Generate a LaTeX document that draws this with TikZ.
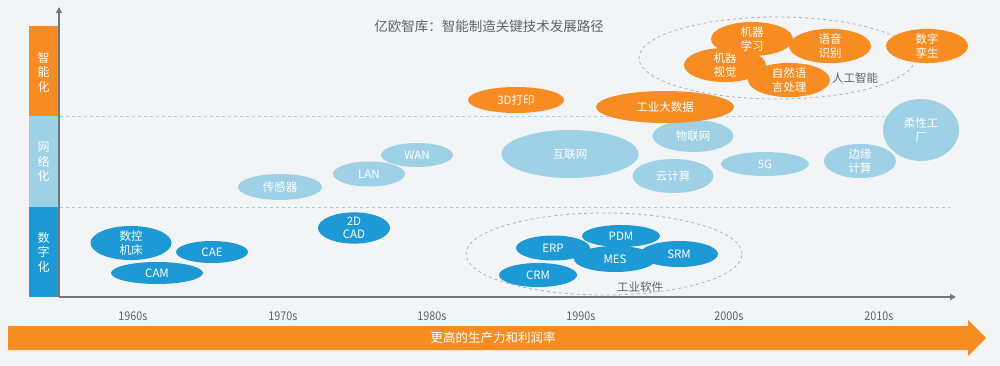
\documentclass[tikz,border=0pt]{standalone}
\usepackage{fontspec}
\setmainfont{Noto Sans CJK SC}
\usepackage{tikz}
\usetikzlibrary{shapes.geometric}
\usetikzlibrary{arrows.meta}
\usepackage{xcolor}
\definecolor{ColSmart}{RGB}{247,141,34}
\definecolor{ColNet}{RGB}{159,209,230}
\definecolor{ColDig}{RGB}{29,154,213}
\definecolor{ColBg}{RGB}{243,244,246}
\definecolor{ColAxis}{RGB}{112,117,126}
\definecolor{ColText}{RGB}{95,98,104}
\definecolor{ColGroup}{RGB}{175,178,182}
\tikzstyle{TechBase}=[ellipse,inner sep=0pt,text=white,align=center,
font=\fontsize{11.5}{13.5}\selectfont]
\tikzstyle{TechDig}=[TechBase,fill=ColDig]
\tikzstyle{TechNet}=[TechBase,fill=ColNet]
\tikzstyle{TechSmart}=[TechBase,fill=ColSmart]
\tikzstyle{GroupRing}=[ellipse,draw=ColGroup,dashed,thick,inner sep=0pt]
\tikzstyle{GroupText}=[text=ColText,font=\fontsize{11.5}{13}\selectfont]
\tikzstyle{LevelBar}=[text=white,align=center,font=\fontsize{12}{14.5}\selectfont]
\tikzstyle{LevelLine}=[ColNet,dashed,thin]
\tikzstyle{AxisLine}=[ColAxis,line width=1.8pt,-{Triangle[length=6pt,width=6pt]}]
\tikzstyle{DecadeLabel}=[text=ColText,font=\fontsize{12}{13}\selectfont,xscale=.9]

\begin{document}
\begin{tikzpicture}[x=1pt,y=-1pt]
        \useasboundingbox(0,0)rectangle(1000,366);
        \fill[ColBg](0,0)rectangle(1000,366);
        \fill[ColSmart](29,26)rectangle(58,116);
        \fill[ColNet](29,116)rectangle(58,207);
        \fill[ColDig](29,207)rectangle(58,297);
        \node[LevelBar](barSmart)at(43.5,72){智\\能\\化};
        \node[LevelBar](barNet)at(43.5,162){网\\络\\化};
        \node[LevelBar](barDig)at(43.5,252){数\\字\\化};
        \coordinate(origin)at(59,297);
        \coordinate(yTop)at(59,7);
        \coordinate(xEnd)at(956,297);
        \coordinate(upperL)at(60,116);
        \coordinate(upperR)at(950,116);
        \coordinate(lowerL)at(60,207);
        \coordinate(lowerR)at(950,207);
        \draw[LevelLine](upperL)--(upperR);
        \draw[LevelLine](lowerL)--(lowerR);
        \node[text=ColText,font=\fontsize{13.5}{15}\selectfont](title)at(489,26){亿欧智库：智能制造关键技术发展路径};
        \node[GroupRing,minimum width=276,minimum height=82](aiGroup)at(777,58){};
        \node[GroupRing,minimum width=276,minimum height=82](swGroup)at(604,254){};
        \node[GroupText](aiText)at(855,78){人工智能};
        \node[GroupText](swText)at(640,287){工业软件};
        \node[TechDig,minimum width=81,minimum height=32](cnc)at(131,243){数控\\机床};
        \node[TechDig,minimum width=72,minimum height=22](cae)at(212,252){CAE};
        \node[TechDig,minimum width=92,minimum height=22](cam)at(157,273){CAM};
        \node[TechDig,minimum width=72,minimum height=26](cad)at(354,228){2D\\CAD};
        \node[TechDig,minimum width=78,minimum height=24](crm)at(538,275){CRM};
        \node[TechDig,minimum width=74,minimum height=25](erp)at(553,248){ERP};
        \node[TechDig,minimum width=78,minimum height=22](pdm)at(621,236){PDM};
        \node[TechDig,minimum width=78,minimum height=26](srm)at(679,254){SRM};
        \node[TechDig,minimum width=82,minimum height=26](mes)at(615,259){MES};
        \node[TechNet,minimum width=84,minimum height=26](sensor)at(280,187){传感器};
        \node[TechNet,minimum width=72,minimum height=25](lan)at(369,174){LAN};
        \node[TechNet,minimum width=72,minimum height=24](wan)at(417,155){WAN};
        \node[TechNet,minimum width=137,minimum height=48](internet)at(570,154){互联网};
        \node[TechNet,minimum width=81,minimum height=32](iot)at(693,136){物联网};
        \node[TechNet,minimum width=81,minimum height=34](cloud)at(673,176){云计算};
        \node[TechNet,minimum width=88,minimum height=24](fiveG)at(765,164){5G};
        \node[TechNet,minimum width=72,minimum height=32](edge)at(860,161){边缘\\计算};
        \node[TechNet,minimum width=76,minimum height=62](factory)at(921,130){柔性工\\厂};
        \node[TechSmart,minimum width=96,minimum height=26](print)at(516,100){3D打印};
        \node[TechSmart,minimum width=138,minimum height=32](bigData)at(665,107){工业大数据};
        \node[TechSmart,minimum width=82,minimum height=34](vision)at(725,65){机器\\视觉};
        \node[TechSmart,minimum width=82,minimum height=34](nlp)at(789,80){自然语\\言处理};
        \node[TechSmart,minimum width=82,minimum height=27](learn)at(752,39){机器\\学习};
        \node[TechSmart,minimum width=82,minimum height=34](speech)at(830,46){语音\\识别};
        \node[TechSmart,minimum width=82,minimum height=34](twin)at(927,46){数字\\孪生};
        \draw[AxisLine](origin)--(yTop);
        \draw[AxisLine](origin)--(xEnd);
        \node[DecadeLabel](d1960)at(133,316){1960s};
        \node[DecadeLabel](d1970)at(283,316){1970s};
        \node[DecadeLabel](d1980)at(432,316){1980s};
        \node[DecadeLabel](d1990)at(581,316){1990s};
        \node[DecadeLabel](d2000)at(729,316){2000s};
        \node[DecadeLabel](d2010)at(879,316){2010s};
        \fill[ColSmart](8,326)--(968,326)--(968,320)--(986,338)--(968,356)--(968,350)--(8,350)--cycle;
        \node[text=white,font=\fontsize{12.5}{14}\selectfont](gain)at(493,338){更高的生产力和利润率};
    \end{tikzpicture}
\end{document}
